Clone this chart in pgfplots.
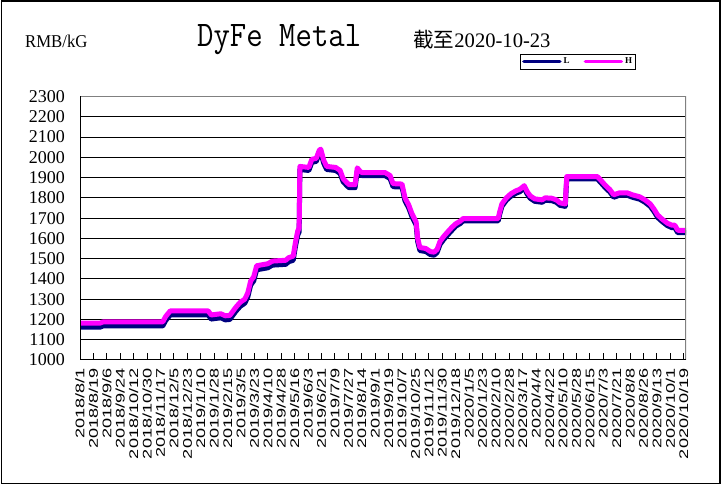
\documentclass[border=0pt]{standalone}
\usepackage{pgfplots}
\pgfplotsset{compat=1.18}
\usepackage{fontspec}
\usepackage{graphicx}
\setmainfont{Liberation Serif}
\newfontfamily\sansf{Liberation Sans}
\newfontfamily\cjk{Noto Sans CJK SC}
\definecolor{Lcol}{HTML}{000080}
\definecolor{Hcol}{HTML}{FF00FF}
\definecolor{frameg}{HTML}{808080}
\begin{document}
\begin{tikzpicture}
\useasboundingbox (0pt,0pt) rectangle (722pt,486pt);
\draw[black, line width=1.2pt] (1.5pt,2.5pt) rectangle (720pt,485pt);
\node[anchor=base west, inner sep=0pt, xscale=0.93, font=\fontsize{18}{18}\selectfont] at (25pt,438pt) {RMB/kG};
\node[anchor=base west, inner sep=0pt, xscale=0.885, font=\ttfamily\fontsize{36}{36}\selectfont] at (197pt,439pt) {DyFe Metal};
\node[anchor=base west, inner sep=0pt, font=\fontsize{20.6}{20.6}\selectfont] at (413pt,438pt) {{\cjk 截至}2020-10-23};
\begin{axis}[
  at={(80pt,126pt)}, anchor=south west,
  scale only axis, width=606pt, height=263.5pt,
  xmin=0, xmax=813, ymin=1000, ymax=2300,
  axis line style={draw=none},
  ytick={1000,1100,...,2300},
  ytick style={draw=none},
  ymajorgrids, major grid style={black, line width=1pt},
  xtick={0,18,...,810},
  xtick pos=bottom, tick align=inside, major tick length=7pt,
  xtick style={black, line width=0.9pt},
  xticklabels={2018/8/1,2018/8/19,2018/9/6,2018/9/24,2018/10/12,2018/10/30,2018/11/17,2018/12/5,2018/12/23,2019/1/10,2019/1/28,2019/2/15,2019/3/5,2019/3/23,2019/4/10,2019/4/28,2019/5/16,2019/6/3,2019/6/21,2019/7/9,2019/7/27,2019/8/14,2019/9/1,2019/9/19,2019/10/7,2019/10/25,2019/11/12,2019/11/30,2019/12/18,2020/1/5,2020/1/23,2020/2/10,2020/2/28,2020/3/17,2020/4/4,2020/4/22,2020/5/10,2020/5/28,2020/6/15,2020/7/3,2020/7/21,2020/8/8,2020/8/26,2020/9/13,2020/10/1,2020/10/19},
  xticklabel style={yshift=-8pt, rotate=90, xscale=1.45, anchor=east, inner sep=0pt, font=\sansf\fontsize{12.5}{12.5}\selectfont},
  yticklabel style={anchor=east, inner sep=0pt, xshift=-15pt, font=\fontsize{18}{18}\selectfont},
  /pgf/number format/assume math mode=true,
  /pgf/number format/1000 sep={},
  legend columns=2,
  legend style={at={(0.822,1.132)}, anchor=center, draw=black, line width=0.8pt, inner sep=1.5pt,
    font=\bfseries\fontsize{9}{9}\selectfont,
    /tikz/every even column/.append style={column sep=12pt}},
  legend image code/.code={\draw[#1, line width=3.5pt, line cap=round] (0pt,0pt) -- (36pt,0pt);},
]
\addplot[Lcol, line width=5pt, line join=round] coordinates {
(0,1162) (27,1162) (31,1168) (111,1168) (115,1195) (121,1222) (172,1222) (176,1202) (182,1205) (189,1208) (195,1198) (201,1200) (209,1240) (215,1265) (221,1280) (225,1310) (229,1370) (233,1390) (237,1445) (252,1455) (258,1468) (276,1472) (280,1485) (286,1492) (289,1560) (292,1615) (294,1632) (295,1940) (307,1935) (311,1975) (317,1980) (321,2020) (323,2025) (327,1970) (331,1940) (343,1935) (349,1920) (353,1880) (358,1860) (361,1850) (369,1850) (372,1933) (376,1915) (378,1910) (409,1910) (416,1895) (420,1855) (432,1853) (436,1785) (441,1750) (445,1710) (451,1665) (453,1585) (456,1540) (464,1535) (470,1520) (475,1517) (479,1530) (483,1570) (488,1595) (494,1620) (499,1640) (504,1660) (510,1673) (514,1686) (561,1686) (563,1718) (566,1758) (572,1788) (578,1808) (585,1823) (590,1830) (596,1848) (600,1818) (604,1798) (610,1783) (620,1778) (624,1788) (633,1786) (639,1778) (644,1763) (651,1758) (653,1893) (694,1893) (698,1878) (704,1853) (711,1828) (716,1803) (724,1813) (734,1813) (741,1803) (751,1793) (758,1778) (765,1758) (770,1733) (775,1703) (781,1683) (788,1663) (794,1653) (798,1653) (802,1628) (813,1628)
};
\addlegendentry{L}
\addplot[Hcol, line width=5pt, line join=round] coordinates {
(0,1182) (27,1182) (31,1188) (111,1188) (115,1215) (121,1242) (172,1242) (176,1222) (182,1225) (189,1228) (195,1218) (201,1220) (209,1260) (215,1285) (221,1300) (225,1330) (229,1390) (233,1410) (237,1465) (252,1475) (258,1488) (276,1492) (280,1505) (286,1512) (289,1580) (292,1635) (294,1652) (295,1955) (307,1950) (311,1990) (317,1995) (321,2035) (323,2040) (327,1985) (331,1955) (343,1950) (349,1935) (353,1895) (358,1875) (361,1865) (369,1865) (372,1948) (376,1930) (378,1925) (409,1925) (416,1910) (420,1870) (432,1868) (436,1800) (441,1765) (445,1725) (451,1680) (453,1600) (456,1555) (464,1550) (470,1535) (475,1532) (479,1545) (483,1585) (488,1610) (494,1635) (499,1655) (504,1672) (510,1685) (514,1698) (561,1698) (563,1730) (566,1770) (572,1800) (578,1820) (585,1835) (590,1842) (596,1860) (600,1830) (604,1810) (610,1795) (620,1790) (624,1800) (633,1798) (639,1790) (644,1775) (651,1770) (653,1905) (694,1905) (698,1890) (704,1865) (711,1840) (716,1815) (724,1825) (734,1825) (741,1815) (751,1805) (758,1790) (765,1770) (770,1745) (775,1715) (781,1695) (788,1675) (794,1665) (798,1665) (802,1640) (813,1640)
};
\addlegendentry{H}
\draw[frameg, line width=2pt] (rel axis cs:0,1) -- (rel axis cs:1,1) -- (rel axis cs:1,0);
\draw[black, line width=1.3pt] (rel axis cs:0,1) -- (rel axis cs:0,0) -- (rel axis cs:1,0);
\end{axis}
\end{tikzpicture}
\end{document}
